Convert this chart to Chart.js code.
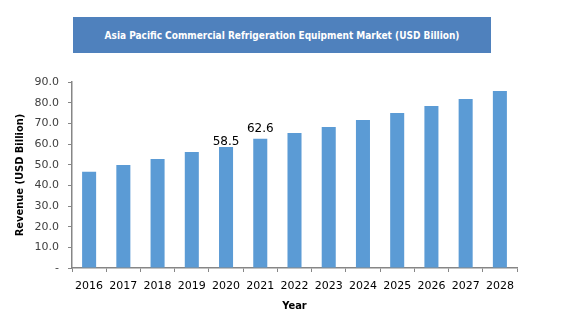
<!DOCTYPE html>
<html>
<head>
<meta charset="utf-8">
<title>Asia Pacific Commercial Refrigeration Equipment Market</title>
<script src="https://cdn.jsdelivr.net/npm/chart.js@4.4.1/dist/chart.umd.min.js"></script>
<style>
  html, body { margin: 0; padding: 0; background: #fff; }
  .wrap { position: relative; width: 565px; height: 324px; }
  .banner {
    position: absolute; left: 73px; top: 17px; width: 418px; height: 36px;
    background: #4F81BD; color: #fff;
    font: bold 10px "DejaVu Sans Condensed", "Liberation Sans", sans-serif;
    display: flex; align-items: center; justify-content: center;
  }
  canvas { position: absolute; left: 0; top: 0; }
</style>
</head>
<body>
<div class="wrap">
  <div class="banner">Asia Pacific Commercial Refrigeration Equipment Market (USD Billion)</div>
  <canvas id="chart" width="565" height="324"></canvas>
</div>
<script>
// years and revenue in USD billion
const years = ['2016', '2017', '2018', '2019', '2020', '2021', '2022', '2023', '2024', '2025', '2026', '2027', '2028'];
const revenue = [46.6, 49.8, 52.7, 56.1, 58.5, 62.6, 65.3, 68.2, 71.6, 75.0, 78.4, 81.8, 85.6];
// only these bars get a value printed above them
const labelledYears = ['2020', '2021'];

const axisGray = '#868686';
const textGray = '#404040';
const titleFont = 'DejaVu Sans Condensed';

// small nudge per label so the text sits like the original
const labelNudge = { '2020': 1, '2021': -4 };

const valueLabels = {
  id: 'valueLabels',
  afterDatasetsDraw(chart) {
    const ctx = chart.ctx;
    const meta = chart.getDatasetMeta(0);
    ctx.save();
    ctx.font = '12px "DejaVu Sans", sans-serif';
    ctx.fillStyle = '#000';
    ctx.textAlign = 'center';
    ctx.textBaseline = 'bottom';
    labelledYears.forEach(y => {
      const i = years.indexOf(y);
      const bar = meta.data[i];
      ctx.fillText(revenue[i].toFixed(1), bar.x, bar.y + (labelNudge[y] || 0));
    });
    ctx.restore();
  }
};

new Chart(document.getElementById('chart'), {
  type: 'bar',
  data: {
    labels: years,
    datasets: [{
      data: revenue,
      backgroundColor: '#5B9BD5',
      categoryPercentage: 1,
      barPercentage: 0.41
    }]
  },
  options: {
    responsive: false,
    animation: false,
    layout: { padding: { top: 82, right: 48, left: 0, bottom: 0 } },
    plugins: { legend: { display: false }, tooltip: { enabled: false } },
    scales: {
      x: {
        afterFit: s => { s.height = 56; },
        grid: { display: true, drawOnChartArea: false, offset: true, color: axisGray, tickLength: 4 },
        border: { color: axisGray, width: 1.5 },
        ticks: { color: '#000', padding: 8, maxRotation: 0, font: { family: 'DejaVu Sans', size: 11 } },
        title: {
          display: true, text: 'Year', color: '#000',
          font: { family: titleFont, size: 11, weight: 'bold' },
          padding: { top: 0, bottom: 11 }
        }
      },
      y: {
        min: 0, max: 90,
        afterFit: s => { s.width = 72; },
        grid: { display: true, drawOnChartArea: false, color: axisGray, tickLength: 4 },
        border: { color: axisGray, width: 1.5 },
        ticks: {
          stepSize: 10, color: textGray, padding: 9,
          font: { family: 'DejaVu Sans', size: 11 },
          callback: v => v === 0 ? '-' : v.toFixed(1)
        },
        title: {
          display: true, text: 'Revenue (USD Billion)', color: '#000',
          font: { family: titleFont, size: 11, weight: 'bold' },
          padding: { top: 14, bottom: 0 }
        }
      }
    }
  },
  plugins: [valueLabels]
});
</script>
</body>
</html>
